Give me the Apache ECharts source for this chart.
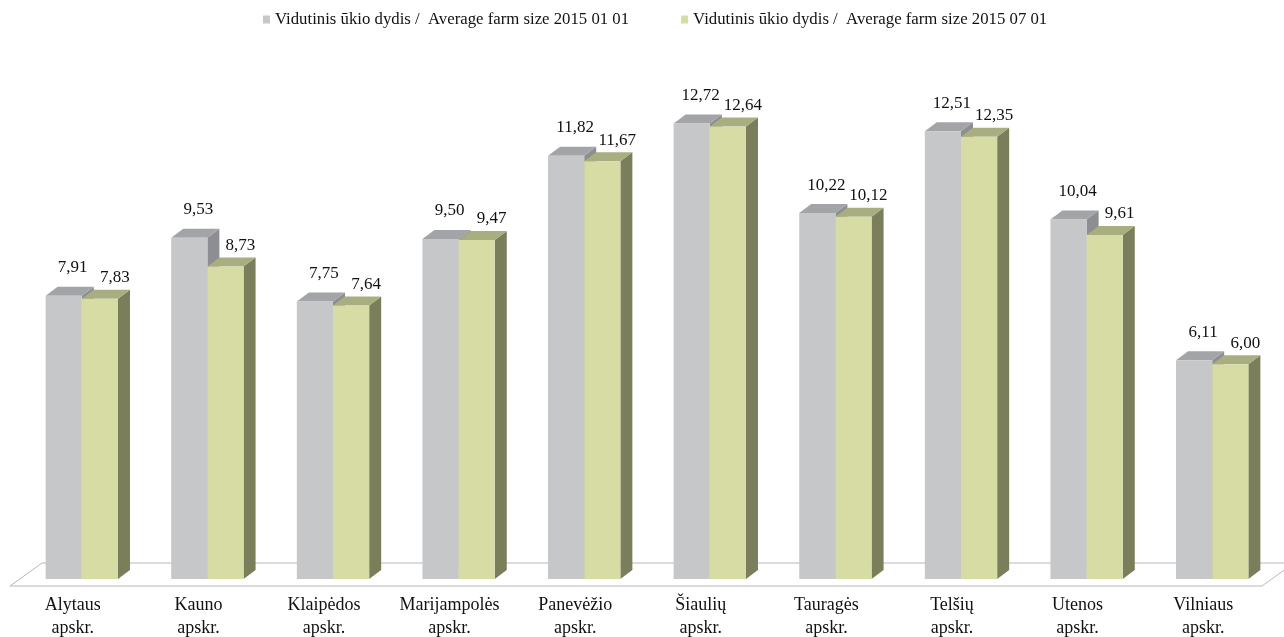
<!DOCTYPE html>
<html><head><meta charset="utf-8">
<script src="https://cdn.jsdelivr.net/npm/echarts@6/dist/echarts.min.js"></script>
<style>html,body{margin:0;padding:0;background:#fff}#c{width:1284px;height:637px}</style>
</head><body><div id="c"></div>
<script>
var categories = ['Alytaus\napskr.','Kauno\napskr.','Klaipėdos\napskr.','Marijampolės\napskr.','Panevėžio\napskr.','Šiaulių\napskr.','Tauragės\napskr.','Telšių\napskr.','Utenos\napskr.','Vilniaus\napskr.'];
var size20150101 = [7.91, 9.53, 7.75, 9.50, 11.82, 12.72, 10.22, 12.51, 10.04, 6.11];
var size20150701 = [7.83, 8.73, 7.64, 9.47, 11.67, 12.64, 10.12, 12.35, 9.61, 6.00];
var seriesNames = ['Vidutinis ūkio dydis /  Average farm size 2015 01 01', 'Vidutinis ūkio dydis /  Average farm size 2015 07 01'];

var FONT = 'Liberation Serif';
var DX = 12, DY = 9;

function fmt(v){ return v.toFixed(2).replace('.', ','); }

function makeRender(side, colors, lblDx, lblDy){
  return function(params, api){
    var ci = api.value(0), v = api.value(1);
    var base = api.coord([ci, 0]);
    var top = api.coord([ci, v]);
    var band = api.size([1, 0])[0];
    var bw = band * 0.288;
    var x0 = side === 0 ? base[0] - bw : base[0];
    var x1 = x0 + bw;
    var yt = top[1], yb = base[1];
    return {
      type: 'group',
      children: [
        {type: 'polygon', shape: {points: [[x1, yt], [x1 + DX, yt - DY], [x1 + DX, yb - DY], [x1, yb]]}, style: {fill: colors[2]}},
        {type: 'polygon', shape: {points: [[x0, yt], [x0 + DX, yt - DY], [x1 + DX, yt - DY], [x1, yt]]}, style: {fill: colors[1]}},
        {type: 'rect', shape: {x: x0, y: yt, width: bw, height: yb - yt}, style: {fill: colors[0]}},
        {type: 'text', x: (x0 + x1) / 2 + lblDx, y: yt - lblDy, style: {text: fmt(v), fill: '#111111', fontFamily: FONT, fontSize: 17, align: 'center', verticalAlign: 'middle'}}
      ]
    };
  };
}

function floorRender(params, api){
  var cs = params.coordSys;
  var yb = api.coord([0, 0])[1];
  var xl = cs.x, xr = cs.x + cs.width;
  return {
    type: 'polygon',
    shape: {points: [[xl - 9, yb + 7], [xl + 23, yb - 16], [xr + 19, yb - 16], [xr - 13, yb + 7]]},
    style: {fill: '#ffffff', stroke: '#b8b8b8', lineWidth: 1},
    z2: 0
  };
}

var chart = echarts.init(document.getElementById('c'), null, {renderer: 'canvas'});
chart.setOption({
  animation: false,
  backgroundColor: '#ffffff',
  grid: {left: 19, right: 9, top: 42, bottom: 58, containLabel: false, outerBoundsMode: 'none'},
  legend: {
    top: 6, left: 258, itemGap: 52,
    icon: 'rect', itemWidth: 7, itemHeight: 8,
    textStyle: {fontFamily: FONT, fontSize: 16.75, color: '#111111'},
    data: seriesNames
  },
  xAxis: {
    type: 'category', data: categories,
    axisLine: {show: false}, axisTick: {show: false},
    axisLabel: {interval: 0, margin: 15, fontFamily: FONT, fontSize: 18, color: '#111111', lineHeight: 23, padding: [0, 18, 0, 0]}
  },
  yAxis: {type: 'value', min: 0, max: 15, show: false},
  series: [
    {type: 'custom', name: 'floor', silent: true, data: [[0, 0]], renderItem: floorRender, z: 1},
    {type: 'custom', name: seriesNames[0], itemStyle: {color: '#c6c7c9'}, data: size20150101.map(function(v, i){ return [i, v]; }), renderItem: makeRender(0, ['#c6c7c9', '#a3a4a8', '#8d8e92'], 9, 28), z: 2},
    {type: 'custom', name: seriesNames[1], itemStyle: {color: '#d6dca4'}, data: size20150701.map(function(v, i){ return [i, v]; }), renderItem: makeRender(1, ['#d6dca4', '#a9ae80', '#7b7e5a'], 15, 21), z: 3}
  ]
});
</script>
</body></html>
